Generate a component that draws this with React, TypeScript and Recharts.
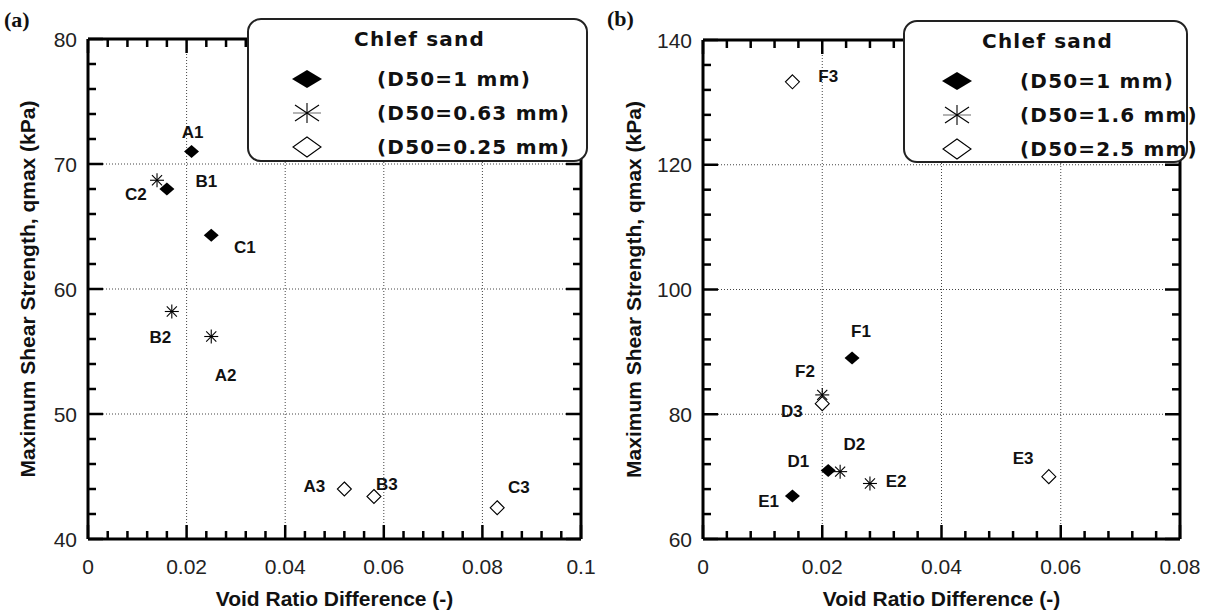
import { ScatterChart, Scatter, XAxis, YAxis, ReferenceLine, Legend } from 'recharts';

const FONT = "'Liberation Sans', Arial, sans-serif";
const LEGEND_FONT = "'DejaVu Sans', Verdana, sans-serif";

// ---- panel (a) ----
const xMajorA = [0, 0.02, 0.04, 0.06, 0.08, 0.1];
const xLabelsA = ['0', '0.02', '0.04', '0.06', '0.08', '0.1'];
const xMinorA = [
  0, 0.004, 0.008, 0.012, 0.016, 0.02, 0.024, 0.028, 0.032, 0.036, 0.04, 0.044, 0.048,
  0.052, 0.056, 0.06, 0.064, 0.068, 0.072, 0.076, 0.08, 0.084, 0.088, 0.092, 0.096, 0.1,
];
const yMajorA = [40, 50, 60, 70, 80];
const yLabelsA = ['40', '50', '60', '70', '80'];
const yMinorA = [
  40, 42, 44, 46, 48, 50, 52, 54, 56, 58, 60, 62, 64, 66, 68, 70, 72, 74, 76, 78, 80,
];

const d1mmA = [
  { x: 0.021, y: 71 },
  { x: 0.016, y: 68 },
  { x: 0.025, y: 64.3 },
];
const d063mmA = [
  { x: 0.014, y: 68.7 },
  { x: 0.017, y: 58.2 },
  { x: 0.025, y: 56.2 },
];
const d025mmA = [
  { x: 0.052, y: 44 },
  { x: 0.058, y: 43.4 },
  { x: 0.083, y: 42.5 },
];
const pointNamesA = [
  { x: 0.0212, y: 72.5, t: 'A1' },
  { x: 0.024, y: 68.6, t: 'B1' },
  { x: 0.0318, y: 63.3, t: 'C1' },
  { x: 0.0097, y: 67.6, t: 'C2' },
  { x: 0.0147, y: 56.1, t: 'B2' },
  { x: 0.0279, y: 53.1, t: 'A2' },
  { x: 0.0459, y: 44.2, t: 'A3' },
  { x: 0.0606, y: 44.4, t: 'B3' },
  { x: 0.0874, y: 44.1, t: 'C3' },
];
const legendA = ['(D50=1 mm)', '(D50=0.63 mm)', '(D50=0.25 mm)'];

// ---- panel (b) ----
const xMajorB = [0, 0.02, 0.04, 0.06, 0.08];
const xLabelsB = ['0', '0.02', '0.04', '0.06', '0.08'];
const xMinorB = [
  0, 0.004, 0.008, 0.012, 0.016, 0.02, 0.024, 0.028, 0.032, 0.036, 0.04, 0.044, 0.048,
  0.052, 0.056, 0.06, 0.064, 0.068, 0.072, 0.076, 0.08,
];
const yMajorB = [60, 80, 100, 120, 140];
const yLabelsB = ['60', '80', '100', '120', '140'];
const yMinorB = [
  60, 64, 68, 72, 76, 80, 84, 88, 92, 96, 100, 104, 108, 112, 116, 120, 124, 128, 132, 136, 140,
];

const d1mmB = [
  { x: 0.021, y: 71 },
  { x: 0.015, y: 66.9 },
  { x: 0.025, y: 89 },
];
const d16mmB = [
  { x: 0.023, y: 70.8 },
  { x: 0.028, y: 68.9 },
  { x: 0.02, y: 83.1 },
];
const d25mmB = [
  { x: 0.02, y: 81.7 },
  { x: 0.058, y: 70 },
  { x: 0.015, y: 133.3 },
];
const pointNamesB = [
  { x: 0.021, y: 134.1, t: 'F3' },
  { x: 0.0265, y: 93.3, t: 'F1' },
  { x: 0.0171, y: 86.8, t: 'F2' },
  { x: 0.0149, y: 80.4, t: 'D3' },
  { x: 0.016, y: 72.4, t: 'D1' },
  { x: 0.0254, y: 75.2, t: 'D2' },
  { x: 0.011, y: 66, t: 'E1' },
  { x: 0.0324, y: 69.2, t: 'E2' },
  { x: 0.0537, y: 72.9, t: 'E3' },
];
const legendB = ['(D50=1 mm)', '(D50=1.6 mm)', '(D50=2.5 mm)'];

const idx = (list: number[], v: number) => list.findIndex((m) => Math.abs(m - v) < 1e-9);

function FilledDiamond({ cx, cy }: any) {
  return (
    <polygon
      points={`${cx},${cy - 6.5} ${cx + 7.5},${cy} ${cx},${cy + 6.5} ${cx - 7.5},${cy}`}
      fill="#000"
    />
  );
}

function OpenDiamond({ cx, cy }: any) {
  return (
    <polygon
      points={`${cx},${cy - 7} ${cx + 7},${cy} ${cx},${cy + 7} ${cx - 7},${cy}`}
      fill="#fff"
      stroke="#000"
      strokeWidth={1.1}
    />
  );
}

function Star({ cx, cy }: any) {
  const r = 7;
  const d = r * 0.72;
  return (
    <g stroke="#000" strokeWidth={1.1}>
      <line x1={cx - r} y1={cy} x2={cx + r} y2={cy} />
      <line x1={cx} y1={cy - r} x2={cx} y2={cy + r} />
      <line x1={cx - d} y1={cy - d} x2={cx + d} y2={cy + d} />
      <line x1={cx - d} y1={cy + d} x2={cx + d} y2={cy - d} />
    </g>
  );
}

function PointName({ cx, cy, payload }: any) {
  return (
    <text
      x={cx}
      y={cy}
      textAnchor="middle"
      dominantBaseline="central"
      fontFamily={FONT}
      fontWeight="bold"
      fontSize={17}
      fill="#111"
    >
      {payload.t}
    </text>
  );
}

const tickText = { fontFamily: FONT, fontSize: 21, fill: '#222' };

function bottomLabel(majors: number[], labels: string[]) {
  return ({ x, y, payload }: any) => {
    const i = idx(majors, payload.value);
    return (
      <text x={x} y={Number(y) + 27} textAnchor="middle" dominantBaseline="central" {...tickText}>
        {labels[i]}
      </text>
    );
  };
}

function leftLabel(majors: number[], labels: string[]) {
  return ({ x, y, payload }: any) => {
    const i = idx(majors, payload.value);
    return (
      <text x={Number(x) - 11} y={y} textAnchor="end" dominantBaseline="central" {...tickText}>
        {labels[i]}
      </text>
    );
  };
}

// inward tick marks at both ends of a reference line, dotted grid for inner majors,
// solid frame for the last value
function xTickShape(major: boolean, grid: boolean, frame: boolean) {
  return (p: any) => {
    const x = Number(p.x1);
    const top = Math.min(Number(p.y1), Number(p.y2));
    const bot = Math.max(Number(p.y1), Number(p.y2));
    const len = major ? 14 : 8;
    return (
      <g>
        {grid && <path d={`M${x},${top}V${bot}`} stroke="#444" strokeWidth={1} strokeDasharray="1 2" fill="none" />}
        {frame && <rect x={x - 1.5} y={top} width={3} height={bot - top} fill="#000" />}
        <rect x={x - 1.25} y={bot - len} width={2.5} height={len} fill="#000" />
        <rect x={x - 1.25} y={top} width={2.5} height={len} fill="#000" />
      </g>
    );
  };
}

function yTickShape(major: boolean, grid: boolean, frame: boolean) {
  return (p: any) => {
    const y = Number(p.y1);
    const left = Math.min(Number(p.x1), Number(p.x2));
    const right = Math.max(Number(p.x1), Number(p.x2));
    const len = major ? 15 : 8;
    return (
      <g>
        {grid && <path d={`M${left},${y}H${right}`} stroke="#444" strokeWidth={1} strokeDasharray="1 2" fill="none" />}
        {frame && <rect x={left} y={y - 1.5} width={right - left} height={3} fill="#000" />}
        <rect x={left} y={y - 1.25} width={len} height={2.5} fill="#000" />
        <rect x={right - len} y={y - 1.25} width={len} height={2.5} fill="#000" />
      </g>
    );
  };
}

function LegendMarker({ kind }: { kind: number }) {
  return (
    <svg width={34} height={24} style={{ display: 'block' }}>
      {kind === 0 && <polygon points="17,3 32,12 17,21 2,12" fill="#000" />}
      {kind === 1 && (
        <g strokeWidth={1.1}>
          <line x1={3} y1={12} x2={31} y2={12} stroke="#777" />
          <line x1={17} y1={2} x2={17} y2={22} stroke="#000" />
          <line x1={5} y1={4} x2={29} y2={20} stroke="#000" />
          <line x1={5} y1={20} x2={29} y2={4} stroke="#000" />
        </g>
      )}
      {kind === 2 && <polygon points="17,2 31,12 17,22 3,12" fill="#fff" stroke="#000" strokeWidth={1.1} />}
    </svg>
  );
}

function makeLegend(labels: string[], w: number, h: number, markerX: number, textX: number) {
  return () => (
    <div
      style={{
        position: 'relative',
        width: w,
        height: h,
        boxSizing: 'border-box',
        border: '2px solid #222',
        borderRadius: 14,
        background: '#fff',
        fontFamily: LEGEND_FONT,
        fontWeight: 'bold',
        color: '#111',
      }}
    >
      <div
        style={{
          position: 'absolute',
          top: 7,
          left: 0,
          width: w,
          textAlign: 'center',
          fontSize: 20,
          letterSpacing: 1.2,
          lineHeight: '24px',
        }}
      >
        Chlef sand
      </div>
      {labels.map((lab, i) => (
        <div key={lab} style={{ position: 'absolute', top: 47 + i * 34, left: 0, width: w, height: 24 }}>
          <div style={{ position: 'absolute', left: markerX - 17, top: 0 }}>
            <LegendMarker kind={i} />
          </div>
          <div
            style={{
              position: 'absolute',
              left: textX,
              top: 0,
              fontSize: 20,
              letterSpacing: 1.2,
              lineHeight: '24px',
              whiteSpace: 'nowrap',
            }}
          >
            {lab}
          </div>
        </div>
      ))}
    </div>
  );
}

const frameLine = { stroke: '#000', strokeWidth: 3 };

function Panel(props: any) {
  const {
    width, margin, yWidth, xDomain, yDomain, xMajor, xLabels, xMinor, yMajor, yLabels, yMinor,
    series, names, legend, legendBox,
  } = props;
  const xLast = xMinor[xMinor.length - 1];
  const yLast = yMinor[yMinor.length - 1];
  return (
    <ScatterChart width={width} height={613} margin={margin}>
      <XAxis
        xAxisId="x"
        dataKey="x"
        type="number"
        domain={xDomain}
        ticks={xMajor}
        interval={0}
        height={74}
        tickSize={0}
        tickMargin={0}
        tickLine={false}
        axisLine={frameLine}
        tick={bottomLabel(xMajor, xLabels)}
        label={{
          value: 'Void Ratio Difference (-)',
          content: (p: any) => (
            <text
              x={p.viewBox.x + p.viewBox.width / 2}
              y={p.viewBox.y + 59}
              textAnchor="middle"
              dominantBaseline="central"
              fontFamily={FONT}
              fontWeight="bold"
              fontSize={21}
              fill="#111"
            >
              Void Ratio Difference (-)
            </text>
          ),
        }}
      />
      <YAxis
        yAxisId="y"
        dataKey="y"
        type="number"
        domain={yDomain}
        ticks={yMajor}
        interval={0}
        width={yWidth}
        tickSize={0}
        tickMargin={0}
        tickLine={false}
        axisLine={frameLine}
        tick={leftLabel(yMajor, yLabels)}
        label={{
          value: 'Maximum Shear Strength, qmax (kPa)',
          content: (p: any) => {
            const cx = p.viewBox.x + 27;
            const cy = p.viewBox.y + p.viewBox.height / 2;
            return (
              <text
                x={cx}
                y={cy}
                transform={`rotate(-90 ${cx} ${cy})`}
                textAnchor="middle"
                dominantBaseline="central"
                fontFamily={FONT}
                fontWeight="bold"
                fontSize={21}
                fill="#111"
              >
                Maximum Shear Strength, qmax (kPa)
              </text>
            );
          },
        }}
      />
      {xMinor.map((v: number) => {
        const major = idx(xMajor, v) >= 0;
        const grid = major && v !== xMinor[0] && v !== xLast;
        return (
          <ReferenceLine
            key={`tx${v}`}
            x={v}
            xAxisId="x"
            yAxisId="y"
            stroke="#000"
            shape={xTickShape(major, grid, v === xLast)}
          />
        );
      })}
      {yMinor.map((v: number) => {
        const major = idx(yMajor, v) >= 0;
        const grid = major && v !== yMinor[0] && v !== yLast;
        return (
          <ReferenceLine
            key={`ty${v}`}
            y={v}
            xAxisId="x"
            yAxisId="y"
            stroke="#000"
            shape={yTickShape(major, grid, v === yLast)}
          />
        );
      })}
      <Scatter name={legend[0]} data={series[0]} xAxisId="x" yAxisId="y" shape={FilledDiamond} isAnimationActive={false} />
      <Scatter name={legend[1]} data={series[1]} xAxisId="x" yAxisId="y" shape={Star} isAnimationActive={false} />
      <Scatter name={legend[2]} data={series[2]} xAxisId="x" yAxisId="y" shape={OpenDiamond} isAnimationActive={false} />
      <Scatter data={names} xAxisId="x" yAxisId="y" shape={PointName} legendType="none" isAnimationActive={false} />
      <Legend
        layout="vertical"
        align="center"
        verticalAlign="middle"
        wrapperStyle={{ left: legendBox.left, top: legendBox.top, width: legendBox.w, height: legendBox.h }}
        content={makeLegend(legend, legendBox.w, legendBox.h, legendBox.markerX, legendBox.textX)}
      />
    </ScatterChart>
  );
}

export default function App() {
  const panelTag = {
    position: 'absolute' as const,
    fontFamily: "'Liberation Serif', 'Times New Roman', serif",
    fontWeight: 'bold' as const,
    fontSize: 22,
    lineHeight: '24px',
    color: '#111',
  };
  return (
    <div style={{ position: 'absolute', left: 0, top: 0, width: 1211, height: 613, background: '#fff', display: 'flex' }}>
      <div style={{ ...panelTag, left: 4, top: 8, zIndex: 2 }}>(a)</div>
      <div style={{ ...panelTag, left: 607, top: 7, zIndex: 2 }}>(b)</div>
      <Panel
        width={606}
        margin={{ top: 39, right: 25, bottom: 0, left: 0 }}
        yWidth={88}
        xDomain={[0, 0.1]}
        yDomain={[40, 80]}
        xMajor={xMajorA}
        xLabels={xLabelsA}
        xMinor={xMinorA}
        yMajor={yMajorA}
        yLabels={yLabelsA}
        yMinor={yMinorA}
        series={[d1mmA, d063mmA, d025mmA]}
        names={pointNamesA}
        legend={legendA}
        legendBox={{ left: 247, top: 18, w: 341, h: 144, markerX: 58, textX: 128 }}
      />
      <Panel
        width={605}
        margin={{ top: 40, right: 31, bottom: 0, left: 0 }}
        yWidth={97}
        xDomain={[0, 0.08]}
        yDomain={[60, 140]}
        xMajor={xMajorB}
        xLabels={xLabelsB}
        xMinor={xMinorB}
        yMajor={yMajorB}
        yLabels={yLabelsB}
        yMinor={yMinorB}
        series={[d1mmB, d16mmB, d25mmB]}
        names={pointNamesB}
        legend={legendB}
        legendBox={{ left: 297, top: 20, w: 285, h: 143, markerX: 52, textX: 115 }}
      />
    </div>
  );
}
